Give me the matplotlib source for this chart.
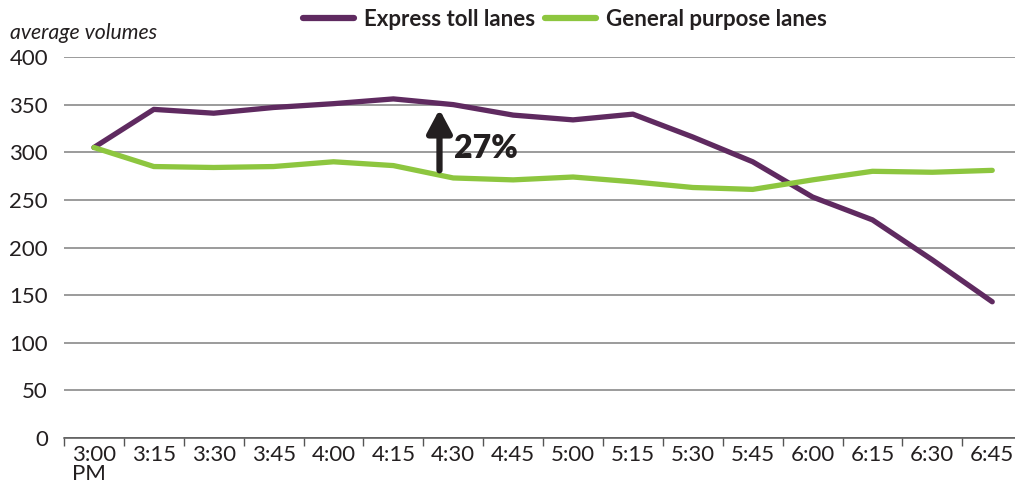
import numpy as np
import matplotlib
matplotlib.use("Agg")
import matplotlib.pyplot as plt

plt.rcParams['font.family'] = ['Lato', 'DejaVu Sans']

# data
times = ["3:00\nPM", "3:15", "3:30", "3:45", "4:00", "4:15", "4:30", "4:45",
         "5:00", "5:15", "5:30", "5:45", "6:00", "6:15", "6:30", "6:45"]
express = [305, 345, 341, 347, 351, 356, 350, 339, 334, 340, 316, 290, 253, 229, 187, 143]
general = [305, 285, 284, 285, 290, 286, 273, 271, 274, 269, 263, 261, 271, 280, 279, 281]
arrow_label = "27%"

purple = "#5f2a60"
green = "#8dc63f"
dark = "#231f20"

W, H = 1015, 484
fig = plt.figure(figsize=(W / 100, H / 100), dpi=100)
ax = fig.add_axes([64 / W, 46 / H, (W - 64) / W, (438 - 57) / H])

x = np.arange(len(times))
ax.plot(x, express, color=purple, lw=3.8, solid_capstyle='round', zorder=3)
ax.plot(x, general, color=green, lw=3.8, solid_capstyle='round', zorder=3)

ax.set_ylim(0, 400)
ax.set_xlim(-0.5, len(times) - 0.62)
ax.set_yticks(range(0, 401, 50))
ax.yaxis.grid(True, color="#808080", lw=1.1)
ax.set_axisbelow(True)
for s in ["top", "right", "left"]:
    ax.spines[s].set_visible(False)
ax.spines["bottom"].set_color("#555555")
ax.spines["bottom"].set_linewidth(1.1)

ax.tick_params(axis='y', length=0, pad=11.5, labelsize=16, labelcolor=dark)
ax.set_xticks(x)
ax.set_xticklabels(times, fontsize=16, color=dark, multialignment='left',
                   linespacing=0.95)
ax.tick_params(axis='x', which='major', length=0, pad=5)
ax.set_xticks(np.arange(len(times)) - 0.5, minor=True)
ax.tick_params(axis='x', which='minor', length=6, width=1, color="#555555", direction='out')

# 27% annotation
ax.annotate("", xy=(5.77, 345), xytext=(5.77, 281),
            arrowprops=dict(arrowstyle="-|>,head_length=14,head_width=7.5",
                            mutation_scale=1, color=dark, lw=4.5,
                            shrinkA=0, shrinkB=0), zorder=4)
ax.text(6.02, 304, arrow_label, fontsize=23, fontweight='heavy', color=dark,
        ha='left', va='center', zorder=4)

fig.text(10 / W, 1 - 33 / H, "average volumes", fontsize=15.3, style='italic',
         color=dark, ha='left', va='center')

h1, = ax.plot([], [], color=purple, lw=4.5, solid_capstyle='round')
h2, = ax.plot([], [], color=green, lw=4.5, solid_capstyle='round')
fig.legend([h1, h2], ["Express toll lanes", "General purpose lanes"],
           loc='center', bbox_to_anchor=(565 / W, 1 - 19 / H), ncol=2, frameon=False,
           prop=dict(weight='bold', size=16), handlelength=2.3, handletextpad=0.45,
           columnspacing=0.45, labelcolor=dark)

fig.savefig("out.png", dpi=100)
